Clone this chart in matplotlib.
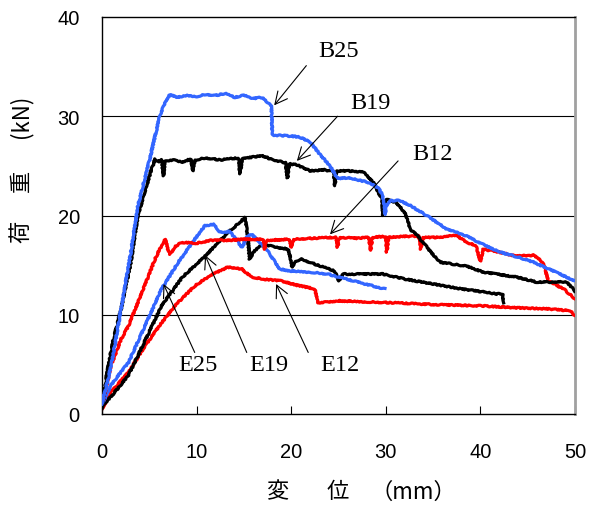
import matplotlib
matplotlib.use('Agg')
import matplotlib.pyplot as plt

plt.rcParams['font.family'] = ['Liberation Sans', 'DejaVu Sans']

# 荷重-変位 データ (読み取り値)
b25_x = [0, 1.0, 2.0, 3.0, 3.8, 5.0, 6.1, 6.7, 7.2, 8.0, 9.0, 10.0, 11.0, 12.0, 13.0, 14.0, 15.0, 16.0, 17.0,
         17.9, 18.0, 18.2, 20.0, 20.9, 22.0, 23.0, 24.1, 24.9, 25.9, 27.0, 28.3, 29.2, 29.7, 29.9, 30.1, 30.4,
         31.5, 32.6, 34.3, 35.4, 36.5, 38.4, 40.0, 42.1, 44.0, 45.6, 47.5, 50.0]
b25_y = [1.0, 5.0, 10.5, 16.0, 21.0, 25.5, 30.0, 31.5, 32.2, 31.9, 32.1, 32.0, 32.2, 32.1, 32.3, 31.9, 32.1, 31.8, 31.9,
         31.0, 28.2, 28.1, 28.0, 27.9, 27.4, 26.2, 25.0, 23.7, 23.8, 23.6, 23.3, 22.8, 22.0, 20.1, 21.0, 21.5,
         21.5, 21.0, 20.0, 19.3, 18.6, 18.0, 17.2, 16.3, 15.8, 15.3, 14.5, 13.4]

b19_x = [0, 0.5, 1.2, 2.0, 3.0, 3.8, 4.7, 5.6, 5.9, 6.3, 6.5, 6.7, 7.5, 8.5, 9.4, 9.6, 9.8, 11.0, 12.5, 14.4,
         14.6, 14.8, 16.0, 17.0, 17.8, 19.4, 19.6, 19.8, 20.6, 22.0, 23.5, 24.5, 24.6, 24.8, 26.0, 27.6, 28.7,
         29.4, 29.6, 29.7, 29.9, 30.1, 31.1, 32.0, 32.6, 33.3, 34.7, 35.7, 38.5, 40.3, 43.8, 45.9, 49.1, 50.0]
b19_y = [0.5, 4.0, 7.5, 10.5, 15.0, 20.0, 23.0, 25.7, 25.4, 25.6, 24.0, 25.5, 25.6, 25.4, 25.7, 24.5, 25.6, 25.8, 25.6, 25.8,
         24.2, 25.7, 25.9, 26.0, 25.7, 25.3, 23.8, 25.2, 25.1, 24.5, 24.6, 24.4, 23.0, 24.5, 24.5, 24.4, 23.3,
         22.0, 21.6, 20.0, 21.3, 21.6, 21.3, 20.3, 18.6, 18.0, 16.4, 15.3, 14.9, 14.3, 13.8, 13.3, 13.3, 12.4]

b12_x = [0, 0.5, 1.0, 2.0, 2.8, 4.5, 5.6, 6.2, 6.7, 7.0, 7.2, 7.8, 8.4, 10.0, 11.5, 13.3, 15.0, 17.0, 17.2, 17.4,
         19.8, 20.0, 20.2, 22.0, 24.7, 24.9, 25.1, 27.0, 28.2, 28.4, 28.6, 30.0, 30.1, 30.3, 32.0, 33.5, 33.7,
         33.9, 35.5, 37.5, 38.5, 39.5, 40.0, 40.3, 42.0, 43.8, 45.6, 46.6, 47.2, 48.0, 48.8, 50.0]
b12_y = [0.8, 3.0, 5.0, 7.5, 8.9, 12.9, 15.6, 16.8, 17.6, 16.5, 16.1, 16.9, 17.3, 17.2, 17.5, 17.5, 17.6, 17.6, 16.6, 17.5,
         17.6, 16.8, 17.6, 17.7, 17.8, 16.8, 17.8, 17.7, 17.8, 16.5, 17.8, 17.9, 16.3, 17.8, 17.9, 17.9, 16.6,
         17.8, 17.8, 18.0, 17.3, 17.0, 15.4, 16.6, 16.3, 15.9, 16.0, 15.3, 13.4, 13.0, 12.6, 11.6]

e25_x = [0, 1.0, 2.8, 4.5, 6.3, 8.0, 9.8, 10.9, 11.8, 12.5, 13.5, 14.8, 15.3, 15.8, 16.8, 17.6, 18.8, 20.0,
         22.0, 23.9, 25.0, 27.0, 29.9]
e25_y = [1.0, 3.0, 5.2, 8.8, 12.6, 15.2, 17.6, 19.0, 19.1, 18.3, 18.4, 16.8, 17.8, 18.1, 17.2, 16.3, 14.6, 14.4,
         14.3, 14.1, 13.8, 13.3, 12.6]

e19_x = [0, 1.0, 2.8, 4.5, 6.3, 8.5, 10.9, 12.0, 13.3, 14.2, 15.1, 15.4, 15.6, 16.0, 16.7, 17.5, 18.5, 19.7,
         20.1, 20.4, 21.1, 22.5, 24.6, 25.0, 25.5, 27.5, 29.7, 32.0, 35.0, 38.0, 40.3, 41.7, 42.4, 42.4]
e19_y = [0.8, 1.8, 3.9, 7.3, 10.9, 13.8, 15.9, 17.0, 18.3, 19.0, 19.8, 18.0, 15.6, 16.3, 16.9, 17.0, 16.8, 16.6,
         14.8, 15.4, 15.6, 15.1, 14.4, 13.4, 14.1, 14.1, 14.1, 13.6, 13.1, 12.6, 12.3, 12.1, 12.1, 11.2]

e12_x = [0, 1.0, 2.8, 4.5, 6.3, 8.0, 9.8, 11.5, 13.3, 14.8, 15.8, 17.0, 19.0, 20.5, 22.5, 22.8, 25.0, 28.0,
         31.0, 33.3, 36.0, 40.0, 43.8, 47.0, 49.5, 50.0]
e12_y = [0.5, 2.3, 4.2, 6.8, 9.2, 11.2, 12.9, 14.0, 14.8, 14.6, 13.8, 13.6, 13.4, 13.0, 12.6, 11.2, 11.4, 11.3,
         11.2, 11.1, 11.0, 10.9, 10.7, 10.6, 10.4, 9.9]

# ラベル: (文字, 文字位置, 矢印の根元, 矢印の先)
labels = [
    ('B25', (25.0, 36.6), (21.6, 35.1), (18.2, 31.1)),
    ('B19', (28.4, 31.4), (24.9, 30.0), (20.6, 25.5)),
    ('B12', (34.9, 26.2), (31.3, 25.5), (24.1, 18.1)),
    ('E25', (10.1, 5.0), (9.8, 6.2), (6.5, 13.1)),
    ('E19', (17.65, 5.0), (15.3, 6.2), (10.9, 16.0)),
    ('E12', (25.2, 5.0), (21.8, 6.2), (18.4, 13.1)),
]

blue = '#3366FF'
red = '#FF0000'

fig = plt.figure(figsize=(5.9, 5.06), dpi=100)
ax = fig.add_axes([102/590, 1 - 415/506, 473/590, 397/506])

series = [
    (e12_x, e12_y, red), (e19_x, e19_y, 'black'), (e25_x, e25_y, blue),
    (b12_x, b12_y, red), (b19_x, b19_y, 'black'), (b25_x, b25_y, blue),
]
for xs, ys, c in series:
    ln, = ax.plot(xs, ys, color=c, lw=2.3, solid_joinstyle='round', zorder=3)
    ln.set_sketch_params(scale=0.6, length=2.0, randomness=8)

for y in [10, 20, 30]:
    ax.axhline(y, color='black', lw=0.8, zorder=1)

for name, txt, tail, tip in labels:
    ax.text(txt[0], txt[1], name, family='Liberation Serif', fontsize=17.5,
            ha='center', va='center')
    ax.annotate('', xy=tip, xytext=tail,
                arrowprops=dict(arrowstyle='->', color='black', lw=0.8,
                                mutation_scale=22, shrinkA=0, shrinkB=0),
                zorder=5)

ax.set_xlim(0, 50)
ax.set_ylim(0, 40)
ax.set_xticks([0, 10, 20, 30, 40, 50])
ax.set_yticks([0, 10, 20, 30, 40])
ax.tick_params(axis='x', direction='in', length=6, width=0.8, pad=20, labelsize=14.5)
ax.tick_params(axis='y', length=0, pad=16, labelsize=14.5)

for s in ['left', 'top', 'bottom']:
    ax.spines[s].set_linewidth(1.0)
    ax.spines[s].set_color('black')
ax.spines['right'].set_color('#A0A0A0')
ax.spines['right'].set_linewidth(2.0)

# 軸ラベル (明朝体の代わりに Noto Sans CJK JP)
jp = ['Noto Sans CJK JP', 'DejaVu Sans']
fig.text(277/590, 1 - 492/506, '変', family=jp, fontsize=16, ha='center', va='center')
fig.text(338/590, 1 - 492/506, '位', family=jp, fontsize=16, ha='center', va='center')
fig.text(413/590, 1 - 492/506, '（mm）', family=jp, fontsize=16, ha='center', va='center')
fig.text(21/590, 1 - 232/506, '荷', family=jp, fontsize=16, ha='center', va='center', rotation=90)
fig.text(21/590, 1 - 181/506, '重', family=jp, fontsize=16, ha='center', va='center', rotation=90)
fig.text(21/590, 1 - 116/506, '(kN)', family=jp, fontsize=16, ha='center', va='center', rotation=90)

fig.savefig('out.png', dpi=100)
